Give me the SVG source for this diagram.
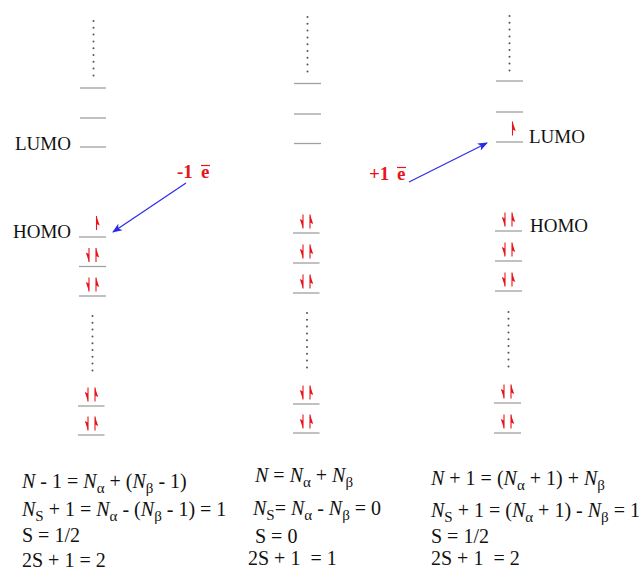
<svg xmlns="http://www.w3.org/2000/svg" xmlns:xlink="http://www.w3.org/1999/xlink" width="641" height="582" viewBox="0 0 641 582">
<style>
.lvl{stroke:#a0a0a0;stroke-width:1.3}
.dot{fill:#555}
.lab{font-family:"Liberation Serif","Times New Roman",serif;font-size:19px;fill:#111}
.el{font-family:"Liberation Serif","Times New Roman",serif;font-size:19px;font-weight:bold;fill:#e8141b}
.bar{stroke:#e8141b;stroke-width:1.2}
.eq{font-family:"Liberation Serif","Times New Roman",serif;font-size:20px;fill:#111}
.i{font-style:italic}
.sub{font-size:15px}
.arr{stroke:#2a2ae6;stroke-width:1.2;fill:none;marker-end:url(#ah)}
</style>
<defs>
<marker id="ah" viewBox="0 0 10 8" refX="9" refY="4" markerWidth="11" markerHeight="8" markerUnits="userSpaceOnUse" orient="auto">
<path d="M0,0 L10,4 L0,8 L2.5,4 Z" fill="#2a2ae6"/>
</marker>
<g id="up"><path d="M0,14 V0" stroke="#e8141b" stroke-width="1.1"/><path d="M0,0 L3.2,9.5 L0,8 Z" fill="#e8141b"/></g>
<g id="dn"><path d="M0,0 V14" stroke="#e8141b" stroke-width="1.1"/><path d="M0,14 L-3.2,4.5 L0,6 Z" fill="#e8141b"/></g>
<g id="dots9" class="dot"><circle cx="0" cy="0" r="1"/><circle cx="0" cy="6.8" r="1"/><circle cx="0" cy="13.6" r="1"/><circle cx="0" cy="20.4" r="1"/><circle cx="0" cy="27.2" r="1"/><circle cx="0" cy="34" r="1"/><circle cx="0" cy="40.8" r="1"/><circle cx="0" cy="47.6" r="1"/><circle cx="0" cy="54.4" r="1"/></g>
<g id="pair"><use xlink:href="#dn" x="-3.5" y="0"/><use xlink:href="#up" x="3.5" y="0"/></g>
</defs>

<g id="col-left">
<use xlink:href="#dots9" x="93.5" y="21"/>
<line class="lvl" x1="80" y1="88" x2="106" y2="88"/>
<line class="lvl" x1="80" y1="118" x2="106" y2="118"/>
<line class="lvl" x1="80" y1="147" x2="106" y2="147"/>
<text class="lab" x="15" y="150">LUMO</text>
<text class="lab" x="13" y="238">HOMO</text>
<line class="lvl" x1="79" y1="237" x2="106" y2="237"/>
<use xlink:href="#up" x="96.5" y="216"/>
<line class="lvl" x1="79" y1="266.5" x2="106" y2="266.5"/>
<use xlink:href="#pair" x="92.5" y="248"/>
<line class="lvl" x1="79" y1="296" x2="106" y2="296"/>
<use xlink:href="#pair" x="92.5" y="277.5"/>
<use xlink:href="#dots9" x="92.5" y="316"/>
<line class="lvl" x1="78" y1="406" x2="104.5" y2="406"/>
<use xlink:href="#pair" x="91.5" y="387.5"/>
<line class="lvl" x1="78" y1="435" x2="104.5" y2="435"/>
<use xlink:href="#pair" x="91.5" y="416.5"/>
</g>

<g id="col-mid">
<use xlink:href="#dots9" x="307.5" y="17"/>
<line class="lvl" x1="294" y1="83.5" x2="321" y2="83.5"/>
<line class="lvl" x1="294" y1="114" x2="321" y2="114"/>
<line class="lvl" x1="294" y1="143.5" x2="321" y2="143.5"/>
<line class="lvl" x1="293" y1="233" x2="319.5" y2="233"/>
<use xlink:href="#pair" x="306.5" y="214.5"/>
<line class="lvl" x1="293" y1="263" x2="319.5" y2="263"/>
<use xlink:href="#pair" x="306.5" y="244.5"/>
<line class="lvl" x1="293" y1="293" x2="319.5" y2="293"/>
<use xlink:href="#pair" x="306.5" y="274.5"/>
<use xlink:href="#dots9" x="307" y="313"/>
<line class="lvl" x1="293" y1="404" x2="319.5" y2="404"/>
<use xlink:href="#pair" x="306.5" y="385.5"/>
<line class="lvl" x1="293" y1="433" x2="319.5" y2="433"/>
<use xlink:href="#pair" x="306.5" y="414.5"/>
</g>

<g id="col-right">
<use xlink:href="#dots9" x="509.5" y="16"/>
<line class="lvl" x1="496" y1="81" x2="523" y2="81"/>
<line class="lvl" x1="496" y1="112" x2="523" y2="112"/>
<line class="lvl" x1="496" y1="142" x2="523" y2="142"/>
<use xlink:href="#up" x="512.5" y="121.5"/>
<text class="lab" x="529" y="143">LUMO</text>
<line class="lvl" x1="495" y1="231" x2="522" y2="231"/>
<use xlink:href="#pair" x="508.5" y="212.5"/>
<text class="lab" x="530" y="232">HOMO</text>
<line class="lvl" x1="495" y1="261" x2="522" y2="261"/>
<use xlink:href="#pair" x="508.5" y="242.5"/>
<line class="lvl" x1="495" y1="291" x2="522" y2="291"/>
<use xlink:href="#pair" x="508.5" y="272.5"/>
<use xlink:href="#dots9" x="508.5" y="312"/>
<line class="lvl" x1="494" y1="403" x2="521" y2="403"/>
<use xlink:href="#pair" x="507.5" y="384.5"/>
<line class="lvl" x1="494" y1="433" x2="521" y2="433"/>
<use xlink:href="#pair" x="507.5" y="414.5"/>
</g>

<g id="connectors">
<line class="arr" x1="186" y1="183" x2="113" y2="232"/>
<line class="arr" x1="409" y1="182" x2="487" y2="143"/>
</g>

<g id="label-minus">
<text class="el" x="177" y="178">-1</text>
<text class="el" x="201" y="178">e</text>
<line class="bar" x1="201" y1="165.5" x2="210" y2="165.5"/>
</g>
<g id="label-plus">
<text class="el" x="369" y="180">+1</text>
<text class="el" x="397" y="180">e</text>
<line class="bar" x1="397" y1="167.5" x2="406" y2="167.5"/>
</g>

<g id="eq-left">
<text class="eq" x="22" y="488"><tspan class="i">N</tspan> - 1 = <tspan class="i">N</tspan><tspan class="sub" dy="5">α</tspan><tspan dy="-5"> + (</tspan><tspan class="i">N</tspan><tspan class="sub" dy="5">β</tspan><tspan dy="-5"> - 1)</tspan></text>
<text class="eq" x="22" y="516"><tspan class="i">N</tspan><tspan class="sub" dy="5">S</tspan><tspan dy="-5"> + 1 = </tspan><tspan class="i">N</tspan><tspan class="sub" dy="5">α</tspan><tspan dy="-5"> - (</tspan><tspan class="i">N</tspan><tspan class="sub" dy="5">β</tspan><tspan dy="-5"> - 1) = 1</tspan></text>
<text class="eq" x="22" y="542">S = 1/2</text>
<text class="eq" x="22" y="566.5">2S + 1 = 2</text>
</g>
<g id="eq-mid">
<text class="eq" x="255" y="482"><tspan class="i">N</tspan> = <tspan class="i">N</tspan><tspan class="sub" dy="5">α</tspan><tspan dy="-5"> + </tspan><tspan class="i">N</tspan><tspan class="sub" dy="5">β</tspan></text>
<text class="eq" x="253" y="515"><tspan class="i">N</tspan><tspan class="sub" dy="5">S</tspan><tspan dy="-5">= </tspan><tspan class="i">N</tspan><tspan class="sub" dy="5">α</tspan><tspan dy="-5"> - </tspan><tspan class="i">N</tspan><tspan class="sub" dy="5">β</tspan><tspan dy="-5"> = 0</tspan></text>
<text class="eq" x="255" y="543">S = 0</text>
<text class="eq" x="248" y="565" xml:space="preserve">2S + 1  = 1</text>
</g>
<g id="eq-right">
<text class="eq" x="431" y="485"><tspan class="i">N</tspan> + 1 = (<tspan class="i">N</tspan><tspan class="sub" dy="5">α</tspan><tspan dy="-5"> + 1) + </tspan><tspan class="i">N</tspan><tspan class="sub" dy="5">β</tspan></text>
<text class="eq" x="431" y="516.5"><tspan class="i">N</tspan><tspan class="sub" dy="5">S</tspan><tspan dy="-5"> + 1 = (</tspan><tspan class="i">N</tspan><tspan class="sub" dy="5">α</tspan><tspan dy="-5"> + 1) - </tspan><tspan class="i">N</tspan><tspan class="sub" dy="5">β</tspan><tspan dy="-5"> = 1</tspan></text>
<text class="eq" x="431" y="543">S = 1/2</text>
<text class="eq" x="431" y="565" xml:space="preserve">2S + 1  = 2</text>
</g>
</svg>
